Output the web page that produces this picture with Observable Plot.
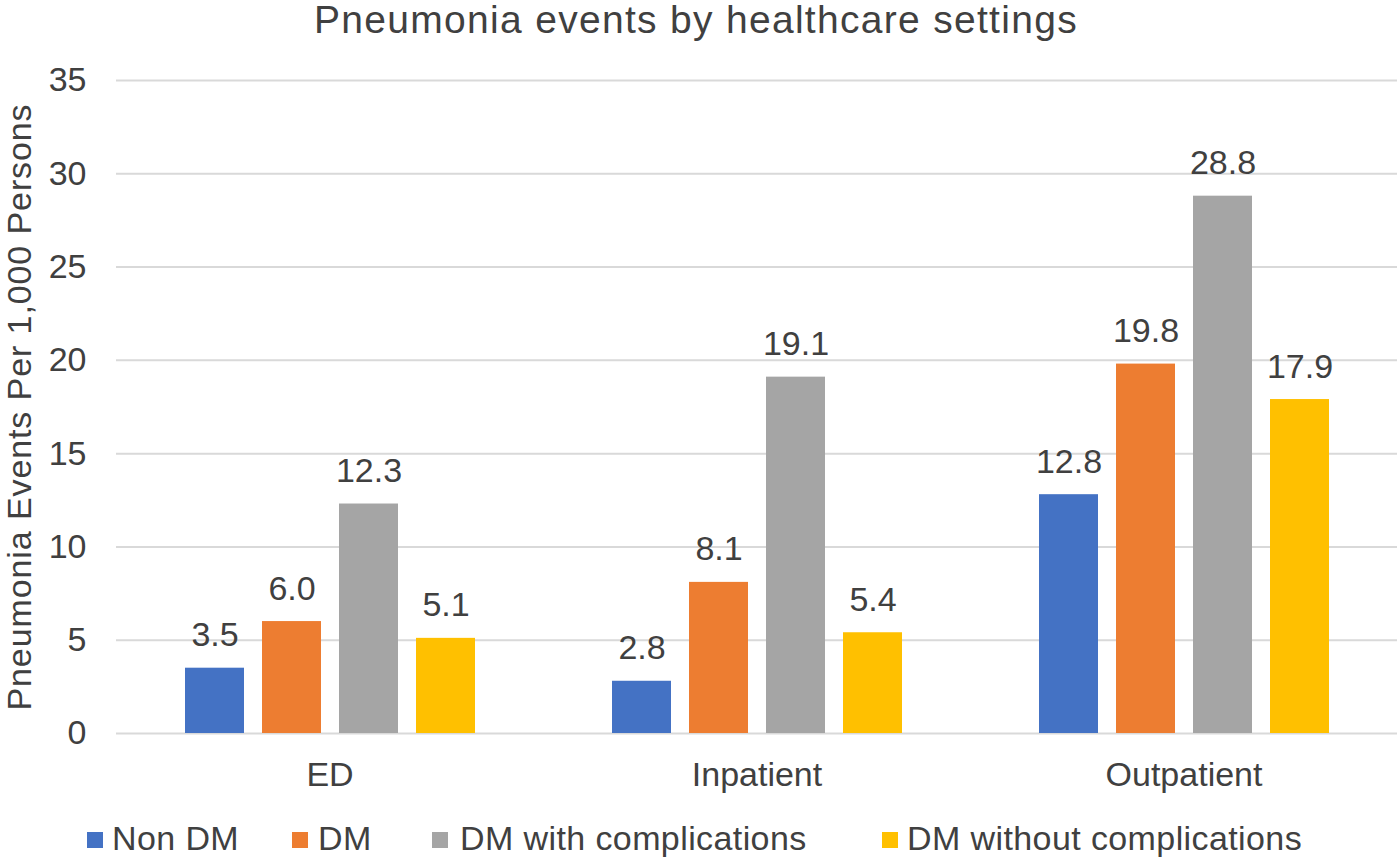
<!DOCTYPE html>
<html>
<head>
<meta charset="utf-8">
<script src="https://cdn.jsdelivr.net/npm/d3@7"></script>
<script src="https://cdn.jsdelivr.net/npm/@observablehq/plot@0.6"></script>
<style>
  html, body { margin: 0; padding: 0; background: #fff; }
  body { width: 1400px; height: 860px; overflow: hidden; font-family: "Liberation Sans", Arial, sans-serif; color: #404040; }
  #title { height: 38px; line-height: 40px; font-size: 39px; letter-spacing: 1.3px; text-align: center; white-space: nowrap; padding-right: 8px; }
  #chart svg { display: block; }
  #chart g[aria-label="y-axis label"] text { letter-spacing: 0.9px; }
  #legend { position: relative; height: 57px; }
  .sw { position: absolute; top: 29px; width: 16px; height: 16px; }
  .lt { position: absolute; top: 15px; line-height: 40px; font-size: 34px; letter-spacing: 0.4px; white-space: nowrap; }
</style>
</head>
<body>
<div id="title">Pneumonia events by healthcare settings</div>
<div id="chart"></div>
<div id="legend"></div>
<script>
const settings = ["ED", "Inpatient", "Outpatient"];
const groups = ["Non DM", "DM", "DM with complications", "DM without complications"];
const nonDM = [3.5, 2.8, 12.8];
const dm = [6.0, 8.1, 19.8];
const dmWith = [12.3, 19.1, 28.8];
const dmWithout = [5.1, 5.4, 17.9];
const colors = ["#4472C4", "#ED7D31", "#A5A5A5", "#FFC000"];
const yTicks = [0, 5, 10, 15, 20, 25, 30, 35];
const yLabel = "Pneumonia Events Per 1,000 Persons";

const seriesValues = [nonDM, dm, dmWith, dmWithout];
const data = [];
settings.forEach((s, i) => {
  groups.forEach((g, j) => {
    data.push({setting: s, group: g, value: seriesValues[j][i]});
  });
});

const textColor = "#404040";
const font = '"Liberation Sans", Arial, sans-serif';

const plot = Plot.plot({
  width: 1400,
  height: 765,
  marginTop: 42,
  marginBottom: 70,
  marginLeft: 115,
  marginRight: 3,
  style: {fontFamily: font, fontSize: "34px", color: textColor, background: "#fff"},
  fx: {domain: settings, padding: 0, label: null, axis: null},
  x: {domain: groups, axis: null, paddingInner: 0.24, paddingOuter: 0.87},
  y: {domain: [0, 35], axis: null},
  color: {domain: groups, range: colors},
  marks: [
    Plot.gridY(yTicks, {stroke: "#d9d9d9", strokeOpacity: 1, strokeWidth: 2}),
    Plot.barY(data, {fx: "setting", x: "group", y: "value", fill: "group"}),
    Plot.text(data, {fx: "setting", x: "group", y: "value", text: d => d.value.toFixed(1), dy: -22, lineAnchor: "bottom", fill: textColor, fontSize: 34}),
    Plot.axisY(yTicks, {anchor: "left", tickSize: 0, tickPadding: 30, fontSize: 34, fill: textColor, label: yLabel, labelAnchor: "center", labelArrow: "none", labelOffset: 110}),
    Plot.axisFx({anchor: "bottom", tickSize: 0, tickPadding: 28, fontSize: 34, fill: textColor, label: null})
  ]
});
document.getElementById("chart").appendChild(plot);

const legend = document.getElementById("legend");
const swX = [87, 292, 432, 882];
const txX = [112, 318, 460, 907];
groups.forEach((g, j) => {
  const sw = document.createElement("div");
  sw.className = "sw";
  sw.style.left = swX[j] + "px";
  sw.style.background = colors[j];
  legend.appendChild(sw);
  const t = document.createElement("div");
  t.className = "lt";
  t.style.left = txX[j] + "px";
  t.textContent = g;
  legend.appendChild(t);
});
</script>
</body>
</html>
